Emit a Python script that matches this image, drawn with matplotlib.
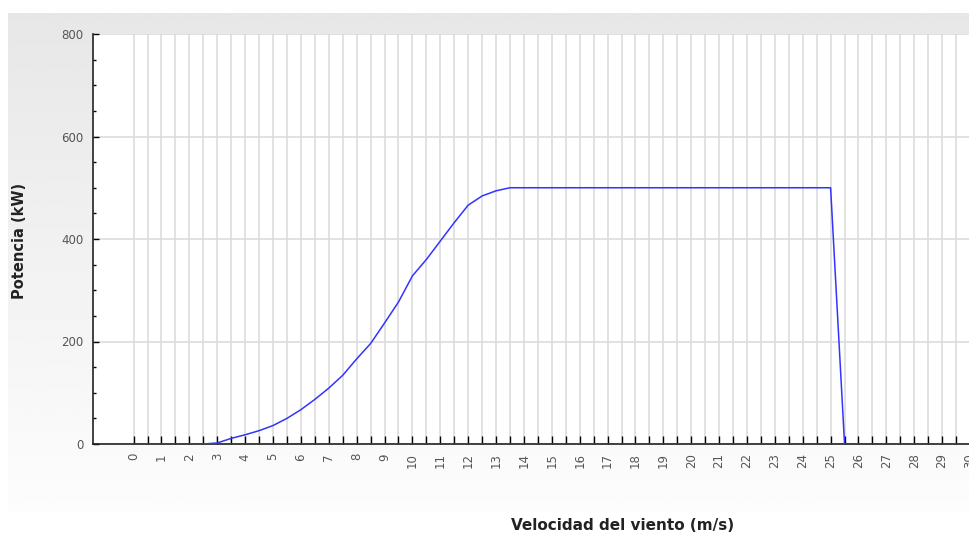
import numpy as np
import matplotlib
matplotlib.use('Agg')
from matplotlib import pyplot
from matplotlib.ticker import MultipleLocator

# power curve, kW vs wind speed in m/s
wind_speed = [2.5, 3.0, 3.5, 4.0, 4.5, 5.0, 5.5, 6.0, 6.5, 7.0, 7.5, 8.0, 8.5, 9.0,
              9.5, 10.0, 10.5, 11.0, 11.5, 12.0, 12.5, 13.0, 13.5, 14.0, 15.0, 16.0,
              17.0, 18.0, 19.0, 20.0, 21.0, 22.0, 23.0, 24.0, 25.0, 25.5]
power = [0, 2, 11, 18, 26, 36, 50, 67, 87, 109, 134, 166, 196, 236,
         277, 328, 360, 396, 432, 466, 484, 494, 500, 500, 500, 500,
         500, 500, 500, 500, 500, 500, 500, 500, 500, 0]

tick_positions = np.arange(0, 30.5, 0.5)
tick_labels = [str(int(t)) if t == int(t) else '' for t in tick_positions]

W, H = 970, 534
fig = pyplot.figure(figsize=(W / 100, H / 100), dpi=100)
fig.patch.set_facecolor('white')

# gray gradient panel behind the chart
bg = fig.add_axes([8 / W, (H - 512) / H, (W - 8) / W, (512 - 13) / H])
grad = np.linspace(0.905, 0.99, 256).reshape(-1, 1)
bg.imshow(grad, aspect='auto', cmap='gray', vmin=0, vmax=1, extent=[0, 1, 0, 1])
bg.set_axis_off()

ax = fig.add_axes([93 / W, (H - 444) / H, (W - 93) / W, 410 / H])
ax.set_facecolor('white')

ax.plot(wind_speed, power, color='#3333ff', linewidth=1.1, zorder=3)

ax.set_xlim(-1.457, 29.93)
ax.set_ylim(0, 800)

ax.set_xticks(tick_positions)
ax.set_xticklabels(tick_labels, rotation=90, color='#555555', fontsize=8.5)
ax.yaxis.set_major_locator(MultipleLocator(200))
ax.yaxis.set_minor_locator(MultipleLocator(50))

ax.tick_params(axis='x', direction='in', length=5.5, width=1, pad=6.5, colors='black', labelcolor='#555555')
ax.tick_params(axis='y', which='major', direction='in', length=4, width=1, pad=7, colors='black', labelcolor='#555555', labelsize=8.5)
ax.tick_params(axis='y', which='minor', direction='in', length=2.5, width=1, colors='black')

ax.grid(True, which='major', color='#dcdcdc', linewidth=1.2, zorder=0)
ax.set_axisbelow(True)

for side in ['top', 'right']:
    ax.spines[side].set_visible(False)
for side in ['left', 'bottom']:
    ax.spines[side].set_color('#222222')
    ax.spines[side].set_linewidth(1.2)

fig.text(20 / W, 1 - 241 / H, 'Potencia (kW)', fontsize=10.5, fontweight='bold',
         color='#222222', rotation=90, ha='center', va='center')
fig.text(623 / W, 1 - 525 / H, 'Velocidad del viento (m/s)', fontsize=11,
         fontweight='bold', color='#222222', ha='center', va='center')

fig.savefig('out.png', dpi=100)
